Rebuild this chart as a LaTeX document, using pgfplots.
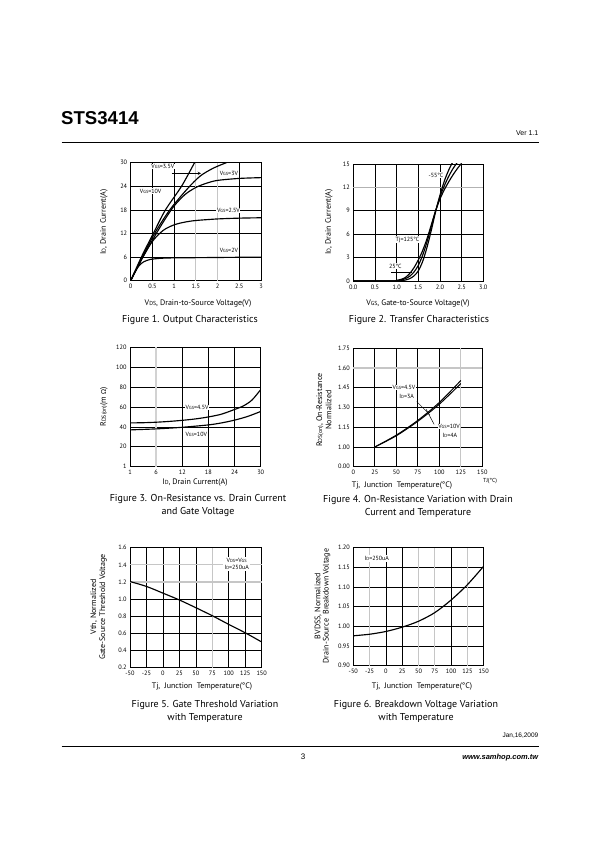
\documentclass[border=0pt]{standalone}
\usepackage{fontspec}
\setmainfont{PT Sans}
\newfontfamily\arial{Liberation Sans}
\newfontfamily\omegafont{DejaVu Sans}
\usepackage{pgfplots}
\pgfplotsset{compat=1.18}
\newcommand\sub[1]{{\fontsize{4.4}{4.4}\selectfont #1}}
\newcommand\lsub[1]{{\fontsize{5.8}{5.8}\selectfont #1}}
\pgfplotsset{
 dsaxis/.style={
  scale only axis, anchor=south west,
  axis line style={line width=0.9pt},
  grid=major, grid style={black, line width=0.7pt},
  major tick length=0pt,
  tick label style={font=\fontsize{6.3}{6.3}\selectfont},
  /pgf/number format/assume math mode=true,
  no markers,
  extra x tick style={grid style={gray!45, line width=1.1pt}},
  extra y tick style={grid style={gray!45, line width=1.1pt}},
 },
 curve/.style={black, line width=1.15pt, smooth},
}
\tikzset{
 lab/.style={font=\fontsize{6}{6}\selectfont, fill=white, inner sep=0.6pt},
 xl/.style={font=\fontsize{8}{8}\selectfont},
 yl/.style={font=\fontsize{8}{8}\selectfont, rotate=90},
 figcap/.style={font=\fontsize{10}{10}\selectfont},
}
\begin{document}
\begin{tikzpicture}
\fill[white] (0,0) rectangle (595pt,842pt);
\useasboundingbox (0,0) rectangle (595pt,842pt);
% header / footer
\node[anchor=base west, inner sep=0, font=\arial\bfseries\fontsize{18.6}{19}\selectfont] at (61pt,717pt) {STS3414};
\node[anchor=base east, inner sep=0, font=\arial\fontsize{7}{7}\selectfont] at (538.5pt,706.5pt) {Ver 1.1};
\draw[line width=0.8pt] (61.5pt,699.3pt) -- (538.5pt,699.3pt);
\node[anchor=base east, inner sep=0, font=\arial\fontsize{6.5}{6.5}\selectfont] at (538.5pt,104pt) {Jan,16,2009};
\draw[line width=0.8pt] (61.5pt,95.3pt) -- (538.5pt,95.3pt);
\node[anchor=base, inner sep=0, font=\arial\fontsize{8}{8}\selectfont] at (303pt,82pt) {3};
\node[anchor=base east, inner sep=0, font=\arial\bfseries\itshape\fontsize{7.5}{7.5}\selectfont] at (538.5pt,82pt) {www.samhop.com.tw};

% ---------------- Figure 1
\begin{axis}[dsaxis, at={(130.7pt,561.3pt)}, width=130.3pt, height=118pt,
 xmin=0,xmax=3,ymin=0,ymax=30,
 xtick={0,0.5,1,2.5,3}, xticklabels={0,0.5,1,2.5,3},
 extra x ticks={1.5,2}, extra x tick labels={1.5,2},
 ytick={0,6,12,18,24,30}, yticklabels={0,6,12,18,24,30}]
\addplot[curve] coordinates {(0,0)(0.25,6.1)(0.52,12)(0.8,18)(1.17,24)(1.47,30)(1.5,30.6)};
\addplot[curve] coordinates {(0,0)(0.27,6)(0.55,12)(0.9,18)(1.3,23.3)(1.6,26.6)(1.9,28.6)(2.2,30)(2.3,30.5)};
\addplot[curve] coordinates {(0,0)(0.28,6)(0.59,12)(0.8,15.8)(1.0,19)(1.25,21.9)(1.5,23.7)(1.75,24.8)(2.0,25.5)(2.5,26)(3,26.2)};
\addplot[curve] coordinates {(0,0)(0.25,5.4)(0.5,10)(0.75,12.8)(1.0,14.2)(1.25,14.9)(1.5,15.3)(2,15.7)(2.5,15.9)(3,16)};
\addplot[curve] coordinates {(0,0)(0.1,2.3)(0.2,3.9)(0.3,4.8)(0.45,5.4)(0.7,5.7)(1,5.8)(2,5.9)(3,6.0)};
\node[lab] at (axis cs:0.74,29) {V\sub{GS}=3.5V};
\draw[-stealth, line width=0.5pt] (axis cs:0.94,27.3) -- (axis cs:1.62,27.3);
\node[lab] at (axis cs:0.46,22.8) {V\sub{GS}=10V};
\node[lab] at (axis cs:2.26,27.2) {V\sub{GS}=3V};
\node[lab] at (axis cs:2.25,17.8) {V\sub{GS}=2.5V};
\node[lab] at (axis cs:2.26,7.6) {V\sub{GS}=2V};
\end{axis}
\node[yl] at (104pt,620pt) {I\lsub{D}, Drain Current(A)};
\node[xl] at (198pt,538pt) {V\lsub{DS}, Drain-to-Source Voltage(V)};
\node[figcap] at (190pt,522pt) {Figure 1. Output Characteristics};

% ---------------- Figure 2
\begin{axis}[dsaxis, at={(353.3pt,561pt)}, width=130pt, height=117pt,
 xmin=0,xmax=3,ymin=0,ymax=15,
 xtick={0,0.5,1,1.5,2,2.5,3}, xticklabels={0.0,0.5,1.0,1.5,2.0,2.5,3.0},
 ytick={0,3,6,9,15}, yticklabels={0,3,6,9,15},
 extra y ticks={12}, extra y tick labels={12},
 extra y tick style={grid style={gray!60, line width=0.7pt}}]
\addplot[curve, tension=0.5] coordinates {(0,0)(0.9,0)(1.0,0.08)(1.1,0.2)(1.2,0.45)(1.3,0.95)(1.4,1.7)(1.5,2.7)(1.6,3.9)(1.7,5.4)(1.8,7.2)(1.9,9.0)(2.0,10.5)(2.1,11.7)(2.2,12.7)(2.3,13.6)(2.4,14.4)(2.5,15.1)};
\addplot[curve, tension=0.5] coordinates {(0,0)(0.9,0)(1.0,0.03)(1.1,0.12)(1.2,0.3)(1.3,0.6)(1.4,1.15)(1.5,2.0)(1.6,3.3)(1.7,5.0)(1.8,7.0)(1.9,9.0)(2.0,10.8)(2.1,12.2)(2.2,13.4)(2.3,14.4)(2.4,15.2)};
\addplot[curve, tension=0.5] coordinates {(0,0)(1.0,0)(1.1,0.03)(1.2,0.12)(1.3,0.3)(1.4,0.65)(1.5,1.3)(1.6,2.5)(1.7,4.3)(1.8,6.5)(1.9,8.9)(2.0,11.0)(2.1,12.8)(2.2,14.2)(2.3,15.3)};
\node[lab] at (axis cs:1.91,13.6) {-55°C};
\node[lab] at (axis cs:1.25,5.3) {Tj=125°C};
\node[lab] at (axis cs:0.97,1.9) {25°C};
\draw[line width=0.5pt] (axis cs:0.87,1.1) -- (axis cs:1.36,1.1);
\end{axis}
\node[yl] at (329pt,620pt) {I\lsub{D}, Drain Current(A)};
\node[xl] at (418pt,538pt) {V\lsub{GS}, Gate-to-Source Voltage(V)};
\node[figcap] at (419pt,522pt) {Figure 2. Transfer Characteristics};

% ---------------- Figure 3
\begin{axis}[dsaxis, at={(130pt,375.3pt)}, width=130.7pt, height=119.4pt,
 xmin=0,xmax=30,ymin=0,ymax=120,
 xtick={0,12,18,24,30}, xticklabels={1,12,18,24,30},
 extra x ticks={6}, extra x tick labels={6},
 extra x tick style={grid style={gray!35, line width=1.4pt}},
 ytick={0,20,40,60,80,100,120}, yticklabels={1,20,40,60,80,100,120}]
\addplot[curve] coordinates {(0,44)(3,44.2)(6,44.7)(9,45.5)(12,46.6)(15,48)(18,50)(21,52.8)(24,57.5)(26,61)(28,67)(30,77.5)};
\addplot[curve] coordinates {(0,37)(6,38)(12,39.6)(18,42)(21,44)(24,46.8)(27,50.5)(30,55.5)};
\node[lab] at (axis cs:15.4,59.7) {V\sub{GS}=4.5V};
\node[lab] at (axis cs:15.2,32.6) {V\sub{GS}=10V};
\end{axis}
\node[yl] at (104pt,435pt) {R\lsub{DS(on)}(m {\omegafont\fontsize{6.5}{6.5}\selectfont Ω})};
\node[xl] at (195pt,359pt) {I\lsub{D}, Drain Current(A)};
\node[figcap] at (198pt,343pt) {Figure 3. On-Resistance vs. Drain Current};
\node[figcap] at (198pt,330pt) {and Gate Voltage};

% ---------------- Figure 4
\begin{axis}[dsaxis, at={(353.3pt,375.3pt)}, width=129pt, height=118.4pt,
 xmin=0,xmax=150,ymin=0.85,ymax=1.75,
 xtick={0,25,50,75,100,150}, xticklabels={0,25,50,75,100,150},
 extra x ticks={125}, extra x tick labels={125},
 ytick={0.85,1.00,1.15,1.30,1.45,1.75}, yticklabels={0.00,1.00,1.15,1.30,1.45,1.75},
 extra y ticks={1.60}, extra y tick labels={1.60}]
\addplot[curve, line width=1pt] coordinates {(25,1.0)(50,1.09)(75,1.202)(100,1.338)(125,1.505)};
\addplot[curve, line width=1pt] coordinates {(25,1.0)(50,1.085)(75,1.195)(100,1.325)(125,1.482)};
\node[lab] at (axis cs:59,1.453) {V\sub{GS}=4.5V};
\node[lab] at (axis cs:62,1.382) {I\sub{D}=3A};
\draw[line width=0.5pt] (axis cs:73.7,1.345) -- (axis cs:89,1.245);
\node[lab] at (axis cs:111.3,1.154) {V\sub{GS}=10V};
\node[lab] at (axis cs:112.4,1.09) {I\sub{D}=4A};
\draw[line width=0.5pt] (axis cs:94,1.172) -- (axis cs:84.5,1.288);
\end{axis}
\node[yl] at (320pt,432pt) {R\lsub{DS(on)}, On-Resistance};
\node[yl] at (328.5pt,432pt) {Normalized};
\node[xl] at (402pt,356pt) {Tj,\ \ Junction\ \ Temperature(°C)};
\node[font=\fontsize{5.8}{5.8}\selectfont] at (490pt,361pt) {TJ(°C)};
\node[figcap] at (418pt,342pt) {Figure 4. On-Resistance Variation with Drain};
\node[figcap] at (418pt,329pt) {Current and Temperature};

% ---------------- Figure 5
\begin{axis}[dsaxis, at={(130pt,174.3pt)}, width=131.7pt, height=120pt,
 xmin=-50,xmax=150,ymin=0.2,ymax=1.6,
 xtick={-50,-25,0,25,50,100,125,150}, xticklabels={-50,-25,0,25,50,100,125,150},
 extra x ticks={75}, extra x tick labels={75},
 ytick={0.2,0.4,0.6,0.8,1.0,1.6}, yticklabels={0.2,0.4,0.6,0.8,1.0,1.6},
 extra y ticks={1.2,1.4}, extra y tick labels={1.2,1.4}]
\addplot[curve] coordinates {(-50,1.205)(-25,1.148)(0,1.07)(25,0.99)(50,0.9)(75,0.806)(100,0.705)(125,0.607)(150,0.5)};
\node[lab, align=center, inner sep=1.2pt] at (axis cs:112,1.41) {V\sub{DS}=V\sub{GS}\\[1pt] I\sub{D}=250uA};
\end{axis}
\node[yl] at (94pt,235pt) {Vth, Normalized};
\node[yl] at (103pt,235pt) {Gate-Source Threshold Voltage};
\node[xl] at (202pt,155pt) {Tj,\ \ Junction\ \ Temperature(°C)};
\node[figcap] at (205pt,137pt) {Figure 5. Gate Threshold Variation};
\node[figcap] at (205pt,124pt) {with Temperature};

% ---------------- Figure 6
\begin{axis}[dsaxis, at={(353.3pt,176.3pt)}, width=130.4pt, height=118pt,
 xmin=-50,xmax=150,ymin=0.90,ymax=1.20,
 xtick={-50,0,25,100,150}, xticklabels={-50,0,25,100,150},
 extra x ticks={-25,50,75,125}, extra x tick labels={-25,50,75,125},
 ytick={0.90,0.95,1.00,1.05,1.10,1.15,1.20}, yticklabels={0.90,0.95,1.00,1.05,1.10,1.15,1.20}]
\addplot[curve] coordinates {(-50,0.976)(-25,0.98)(0,0.987)(25,0.998)(50,1.013)(75,1.035)(100,1.067)(125,1.106)(150,1.153)};
\node[lab, inner sep=1.2pt] at (axis cs:-14,1.173) {I\sub{D}=250uA};
\end{axis}
\node[yl] at (318pt,236pt) {BVDSS, Normalized};
\node[yl] at (326.5pt,236pt) {Drain-Source\ \ Breakdown Voltage};
\node[xl] at (422pt,155pt) {Tj,\ \ Junction\ \ Temperature(°C)};
\node[figcap] at (416pt,137pt) {Figure 6. Breakdown Voltage Variation};
\node[figcap] at (416pt,124pt) {with Temperature};
\end{tikzpicture}
\end{document}
